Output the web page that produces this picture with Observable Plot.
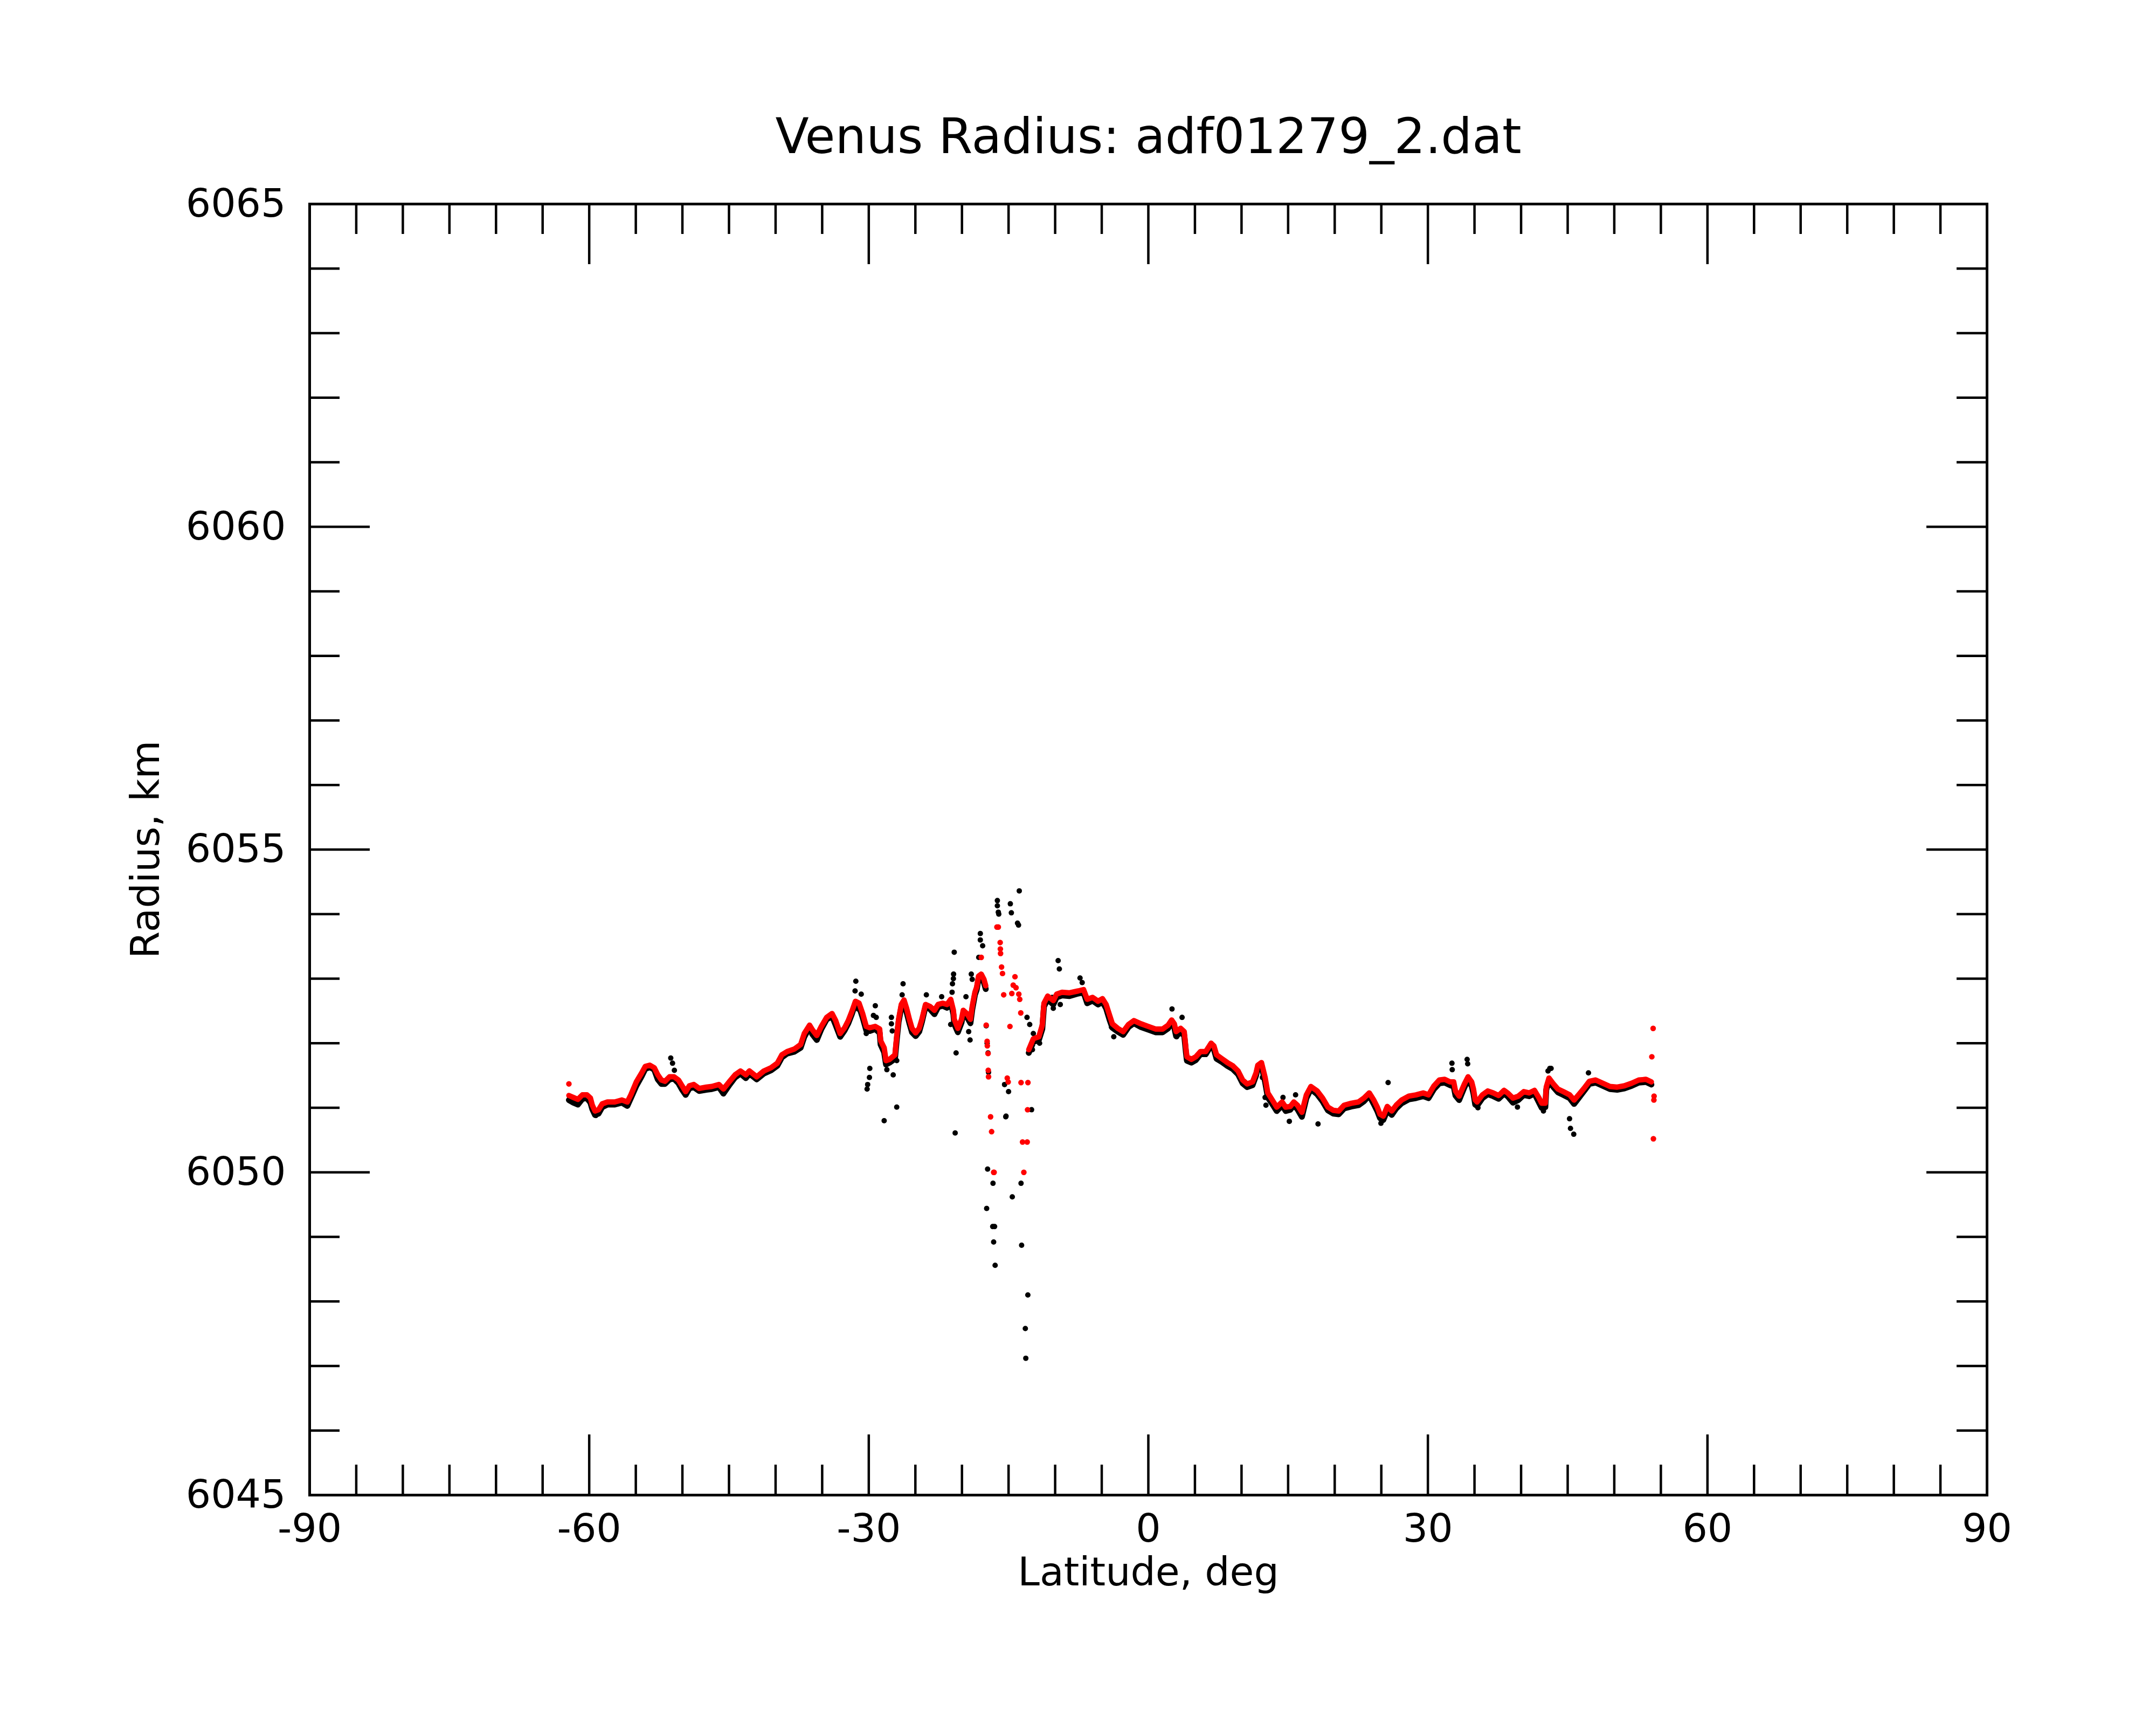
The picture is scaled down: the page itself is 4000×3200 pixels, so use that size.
<!DOCTYPE html>
<html><head><meta charset="utf-8">
<script src="https://cdn.jsdelivr.net/npm/d3@7"></script>
<script src="https://cdn.jsdelivr.net/npm/@observablehq/plot@0.6"></script>
<style>body{margin:0;background:#fff}</style>
</head><body><div id="chart"></div>
<script>
const title = "Venus Radius: adf01279_2.dat";
const xLabel = "Latitude, deg";
const yLabel = "Radius, km";
const xMajorTicks = [-90, -60, -30, 0, 30, 60, 90];
const xInnerMajor = [-60, -30, 0, 30, 60];
const xMinorTicks = [-85,-80,-75,-70,-65,-55,-50,-45,-40,-35,-25,-20,-15,-10,-5,5,10,15,20,25,35,40,45,50,55,65,70,75,80,85];
const yMajorTicks = [6045, 6050, 6055, 6060, 6065];
const yInnerMajor = [6050, 6055, 6060];
const yMinorTicks = [6046,6047,6048,6049,6051,6052,6053,6054,6056,6057,6058,6059,6061,6062,6063,6064];

// main track (latitude, deg) shared by the red and black series; null = gap
const mainLat = [-62.18,-61.7,-61.22,-60.73,-60.25,-59.87,-59.67,-59.38,-59.0,-58.61,-58.04,-57.26,-56.49,-55.91,-55.53,-54.95,-54.37,-53.99,-53.5,-53.02,-52.64,-52.25,-51.87,-51.38,-50.9,-50.42,-50.03,-49.65,-49.26,-48.78,-48.2,-47.43,-46.85,-46.08,-45.6,-44.93,-44.35,-43.77,-43.19,-42.81,-42.03,-41.26,-40.49,-39.82,-39.33,-38.76,-37.98,-37.31,-36.92,-36.35,-36.06,-35.58,-35.09,-34.52,-33.94,-33.55,-33.07,-32.59,-32.2,-31.82,-31.43,-31.04,-30.66,-30.27,-29.89,-29.31,-28.83,-28.73,-28.35,-28.15,-27.77,-27.19,-27.0,-26.8,-26.51,-26.22,-25.94,-25.64,-25.36,-24.97,-24.59,-24.3,-23.91,-23.43,-22.95,-22.56,-22.08,-21.6,-21.21,-20.92,-20.83,-20.44,-20.05,-19.86,-19.48,-19.09,-18.9,-18.61,-18.42,-18.22,-17.93,-17.64,-17.45,-15.0,-12.83,-12.34,-11.75,-11.38,-11.2,-10.8,-10.2,-9.84,-9.26,-8.5,-7.52,-6.95,-6.56,-5.98,-5.4,-4.92,-4.53,-4.15,-3.86,-3.28,-2.7,-2.13,-1.55,-0.78,0.0,0.77,1.54,2.12,2.5,2.79,2.98,3.47,3.85,3.95,4.04,4.14,4.62,5.1,5.59,6.16,6.74,7.03,7.32,7.9,8.48,9.06,9.63,10.12,10.6,11.18,11.56,11.75,12.14,12.53,12.82,13.3,13.78,14.36,14.74,15.23,15.61,16.0,16.48,16.96,17.44,18.12,18.7,19.27,19.85,20.43,21.01,21.78,22.55,23.13,23.71,24.19,24.57,24.86,25.21,25.64,26.12,26.6,27.18,27.95,28.72,29.49,30.07,30.65,31.23,31.8,32.38,32.77,32.96,33.35,33.92,34.31,34.7,34.89,35.08,35.27,35.85,36.43,37.01,37.59,38.17,38.55,39.13,39.71,40.29,40.86,41.44,41.93,42.21,42.6,42.7,42.99,43.47,43.95,44.53,45.21,45.69,46.17,46.75,47.33,48.0,48.77,49.54,50.31,51.08,51.86,52.63,53.4,53.98];
// red (smoothed) radius, km
const redMain = [6051.19,6051.16,6051.13,6051.20,6051.20,6051.15,6051.04,6050.95,6050.97,6051.06,6051.09,6051.09,6051.12,6051.09,6051.20,6051.40,6051.54,6051.64,6051.66,6051.62,6051.51,6051.43,6051.41,6051.48,6051.48,6051.43,6051.34,6051.25,6051.34,6051.36,6051.30,6051.32,6051.33,6051.36,6051.29,6051.41,6051.51,6051.57,6051.51,6051.57,6051.48,6051.57,6051.62,6051.69,6051.82,6051.87,6051.91,6051.98,6052.15,6052.28,6052.21,6052.12,6052.26,6052.40,6052.46,6052.35,6052.15,6052.24,6052.35,6052.49,6052.65,6052.62,6052.46,6052.26,6052.24,6052.26,6052.22,6052.04,6051.93,6051.73,6051.75,6051.82,6052.11,6052.37,6052.60,6052.67,6052.54,6052.37,6052.23,6052.16,6052.23,6052.37,6052.60,6052.57,6052.51,6052.60,6052.62,6052.60,6052.68,6052.51,6052.37,6052.23,6052.37,6052.51,6052.46,6052.37,6052.57,6052.79,6052.87,6053.04,6053.07,6052.99,6052.89,null,6051.90,6052.07,6052.10,6052.28,6052.62,6052.73,6052.66,6052.76,6052.79,6052.78,6052.81,6052.83,6052.68,6052.71,6052.65,6052.69,6052.60,6052.43,6052.30,6052.23,6052.18,6052.29,6052.35,6052.30,6052.26,6052.22,6052.22,6052.28,6052.36,6052.30,6052.18,6052.23,6052.18,6052.04,6051.91,6051.79,6051.75,6051.79,6051.87,6051.87,6052.00,6051.96,6051.82,6051.76,6051.70,6051.65,6051.57,6051.43,6051.37,6051.40,6051.54,6051.66,6051.70,6051.47,6051.23,6051.12,6051.01,6051.09,6051.01,6051.02,6051.09,6051.04,6050.93,6051.20,6051.33,6051.26,6051.15,6051.01,6050.96,6050.95,6051.04,6051.07,6051.09,6051.15,6051.23,6051.12,6051.01,6050.90,6050.87,6051.02,6050.95,6051.04,6051.12,6051.18,6051.20,6051.23,6051.20,6051.34,6051.43,6051.44,6051.40,6051.40,6051.26,6051.18,6051.37,6051.48,6051.40,6051.29,6051.12,6051.09,6051.20,6051.26,6051.23,6051.19,6051.27,6051.23,6051.15,6051.18,6051.25,6051.23,6051.27,6051.15,6051.07,6051.07,6051.32,6051.46,6051.37,6051.29,6051.25,6051.20,6051.12,6051.20,6051.30,6051.41,6051.43,6051.38,6051.33,6051.32,6051.34,6051.38,6051.43,6051.44,6051.40];
// black (raw) radius, km, along the same track
const blackMain = [6051.12,6051.08,6051.05,6051.14,6051.15,6051.08,6050.98,6050.89,6050.91,6051.01,6051.05,6051.05,6051.08,6051.03,6051.15,6051.34,6051.49,6051.60,6051.63,6051.59,6051.44,6051.37,6051.37,6051.44,6051.45,6051.38,6051.28,6051.20,6051.30,6051.32,6051.26,6051.28,6051.29,6051.32,6051.22,6051.36,6051.47,6051.53,6051.46,6051.53,6051.44,6051.53,6051.58,6051.65,6051.78,6051.84,6051.87,6051.93,6052.10,6052.25,6052.14,6052.05,6052.22,6052.37,6052.42,6052.28,6052.10,6052.20,6052.31,6052.45,6052.62,6052.57,6052.40,6052.20,6052.19,6052.22,6052.16,6051.98,6051.86,6051.67,6051.70,6051.76,6052.05,6052.33,6052.56,6052.63,6052.48,6052.31,6052.17,6052.11,6052.18,6052.33,6052.57,6052.53,6052.45,6052.56,6052.58,6052.55,6052.64,6052.45,6052.30,6052.17,6052.32,6052.46,6052.41,6052.31,6052.52,6052.75,6052.83,6053.00,6053.03,6052.94,6052.84,null,6051.85,6052.02,6052.05,6052.22,6052.57,6052.68,6052.60,6052.71,6052.74,6052.73,6052.77,6052.79,6052.62,6052.66,6052.60,6052.64,6052.54,6052.36,6052.24,6052.18,6052.13,6052.25,6052.31,6052.25,6052.21,6052.17,6052.17,6052.23,6052.32,6052.24,6052.11,6052.17,6052.12,6051.98,6051.85,6051.73,6051.70,6051.74,6051.83,6051.83,6051.97,6051.91,6051.76,6051.71,6051.65,6051.60,6051.52,6051.38,6051.32,6051.35,6051.50,6051.62,6051.66,6051.40,6051.16,6051.06,6050.95,6051.04,6050.95,6050.97,6051.04,6050.98,6050.86,6051.15,6051.29,6051.21,6051.10,6050.96,6050.91,6050.90,6050.99,6051.02,6051.04,6051.10,6051.19,6051.06,6050.95,6050.84,6050.81,6050.96,6050.89,6050.99,6051.07,6051.13,6051.15,6051.18,6051.15,6051.29,6051.38,6051.39,6051.35,6051.33,6051.19,6051.12,6051.32,6051.43,6051.34,6051.22,6051.05,6051.03,6051.15,6051.21,6051.18,6051.14,6051.22,6051.18,6051.08,6051.12,6051.20,6051.18,6051.22,6051.08,6051.00,6051.01,6051.28,6051.42,6051.32,6051.24,6051.20,6051.15,6051.06,6051.15,6051.26,6051.37,6051.39,6051.34,6051.29,6051.28,6051.30,6051.34,6051.39,6051.40,6051.36];

// scattered black points
const blackOutLat = [-59.29,-51.25,-51.06,-50.86,-45.6,-31.39,-31.47,-30.81,-31.14,-29.3,-29.5,-29.2,-27.57,-27.57,-27.48,-30.27,-29.89,-29.93,-30.12,-30.18,-28.06,-27.38,-27.0,-27.0,-28.35,-26.32,-26.42,-23.82,-22.18,-20.83,-20.9,-20.92,-21.02,-21.06,-21.21,-19.57,-19.28,-19.13,-20.63,-20.73,-18.03,-18.03,-17.78,-19.0,-18.9,-18.2,-17.4,-17.3,-17.2,-17.15,-16.2,-16.2,-16.1,-16.05,-14.81,-14.7,-14.04,-13.93,-13.85,-9.68,-9.55,-13.02,-12.73,-12.34,-11.67,-12.44,-15.43,-15.0,-15.27,-12.53,-10.32,-9.45,-10.2,-17.35,-16.44,-16.6,-16.7,-16.5,-16.67,-17.25,-13.15,-13.2,-12.93,-13.6,-14.6,-13.66,-15.3,-7.33,-7.1,-3.71,-3.96,2.54,3.62,3.04,12.24,12.53,12.62,15.13,18.21,15.8,14.45,25.73,24.96,32.58,32.61,34.21,34.27,45.2,45.3,45.65,43.08,42.89,43.22,47.23,42.4,35.37,39.61];
const blackOutR = [6050.88,6051.77,6051.69,6051.58,6051.22,6052.96,6052.81,6052.76,6052.53,6052.58,6052.43,6052.40,6052.40,6052.30,6052.19,6052.15,6051.61,6051.47,6051.36,6051.29,6051.59,6051.51,6051.73,6051.01,6050.80,6052.92,6052.75,6052.75,6052.72,6053.41,6053.07,6053.00,6052.92,6052.79,6052.29,6052.72,6052.18,6052.05,6051.85,6050.61,6053.70,6053.60,6053.51,6053.07,6052.99,6053.33,6052.27,6052.00,6051.85,6051.55,6054.21,6054.13,6054.03,6054.00,6054.16,6054.02,6053.86,6053.83,6054.36,6053.28,6053.15,6052.40,6052.29,6052.15,6052.00,6051.90,6051.36,6051.25,6050.87,6050.97,6052.71,6052.60,6052.54,6049.44,6048.56,6048.92,6049.16,6049.16,6049.83,6050.05,6047.12,6047.58,6048.10,6048.87,6049.62,6049.83,6050.86,6053.01,6052.94,6052.10,6052.25,6052.53,6052.40,6052.10,6051.47,6051.16,6051.04,6050.79,6050.75,6051.20,6051.16,6051.39,6050.76,6051.69,6051.59,6051.75,6051.68,6050.83,6050.68,6050.59,6051.61,6051.57,6051.61,6051.54,6050.95,6051.00,6051.01];

// scattered red points
const redOutLat = [-62.18,-17.93,-16.25,-16.1,-15.9,-15.88,-15.86,-15.75,-15.65,-14.31,-14.5,-14.2,-15.52,-14.65,-13.9,-13.8,-13.69,-14.85,-17.4,-17.3,-17.28,-17.2,-17.18,-17.15,-15.14,-15.04,-13.66,-12.92,-12.96,-16.93,-16.82,-13.5,-13.0,-16.6,-16.55,-13.36,54.17,54.03,54.27,54.25,54.2];
const redOutR = [6051.37,6053.33,6053.80,6053.80,6053.56,6053.46,6053.39,6053.18,6053.08,6053.03,6052.90,6052.86,6052.75,6052.77,6052.76,6052.68,6052.47,6052.26,6052.28,6052.03,6051.96,6051.84,6051.58,6051.48,6051.46,6051.40,6051.39,6051.39,6050.97,6050.86,6050.63,6050.47,6050.47,6050.00,6050.00,6050.00,6052.23,6051.79,6051.18,6051.12,6050.52];

const W = 4000, H = 3200;
const mL = 574, mR = 314, mT = 378, mB = 427;
const fH = H - mT - mB, fW = W - mL - mR;
const minorLen = 56, majorLen = 112;
const tickW = 4.5;

const mainIdx = d3.range(mainLat.length);
const bIdx = d3.range(blackOutLat.length);
const rIdx = d3.range(redOutLat.length);

const chart = Plot.plot({
  width: W, height: H,
  marginLeft: mL, marginRight: mR, marginTop: mT, marginBottom: mB,
  style: {fontFamily: "DejaVu Sans", background: "white", color: "black", overflow: "visible"},
  x: {domain: [-90, 90], axis: null},
  y: {domain: [6045, 6065], axis: null},
  marks: [
    // ticks (inward, all four sides)
    Plot.tickX(xMinorTicks, {x: d => d, insetTop: fH - minorLen, strokeWidth: tickW}),
    Plot.tickX(xMinorTicks, {x: d => d, insetBottom: fH - minorLen, strokeWidth: tickW}),
    Plot.tickX(xInnerMajor, {x: d => d, insetTop: fH - majorLen, strokeWidth: tickW}),
    Plot.tickX(xInnerMajor, {x: d => d, insetBottom: fH - majorLen, strokeWidth: tickW}),
    Plot.tickY(yMinorTicks, {y: d => d, insetRight: fW - minorLen, strokeWidth: tickW}),
    Plot.tickY(yMinorTicks, {y: d => d, insetLeft: fW - minorLen, strokeWidth: tickW}),
    Plot.tickY(yInnerMajor, {y: d => d, insetRight: fW - majorLen, strokeWidth: tickW}),
    Plot.tickY(yInnerMajor, {y: d => d, insetLeft: fW - majorLen, strokeWidth: tickW}),
    Plot.frame({stroke: "black", strokeWidth: 5}),
    // tick labels
    Plot.axisX(xMajorTicks, {anchor: "bottom", tickSize: 0, tickPadding: 35, tickFormat: d => String(d), fontSize: 73, label: null}),
    Plot.axisY(yMajorTicks, {anchor: "left", tickSize: 0, tickPadding: 44, tickFormat: d => String(d), fontSize: 73, label: null}),
    // titles
    Plot.text([title], {frameAnchor: "top", dy: -124, fontSize: 91, lineAnchor: "middle", textAnchor: "middle", fill: "black"}),
    Plot.text([xLabel], {frameAnchor: "bottom", dy: 144, fontSize: 73, lineAnchor: "middle", textAnchor: "middle", fill: "black"}),
    Plot.text([yLabel], {frameAnchor: "left", dx: -303, rotate: -90, fontSize: 73, lineAnchor: "middle", textAnchor: "middle", fill: "black"}),
    // data
    Plot.line(mainIdx, {x: i => mainLat[i], y: i => blackMain[i] ?? NaN, stroke: "black", strokeWidth: 11}),
    Plot.dot(bIdx, {x: i => blackOutLat[i], y: i => blackOutR[i], r: 5, fill: "black"}),
    Plot.line(mainIdx, {x: i => mainLat[i], y: i => redMain[i] ?? NaN, stroke: "#ff0000", strokeWidth: 10}),
    Plot.dot(rIdx, {x: i => redOutLat[i], y: i => redOutR[i], r: 5.2, fill: "#ff0000"})
  ]
});
document.getElementById("chart").append(chart);
</script>
</body></html>
